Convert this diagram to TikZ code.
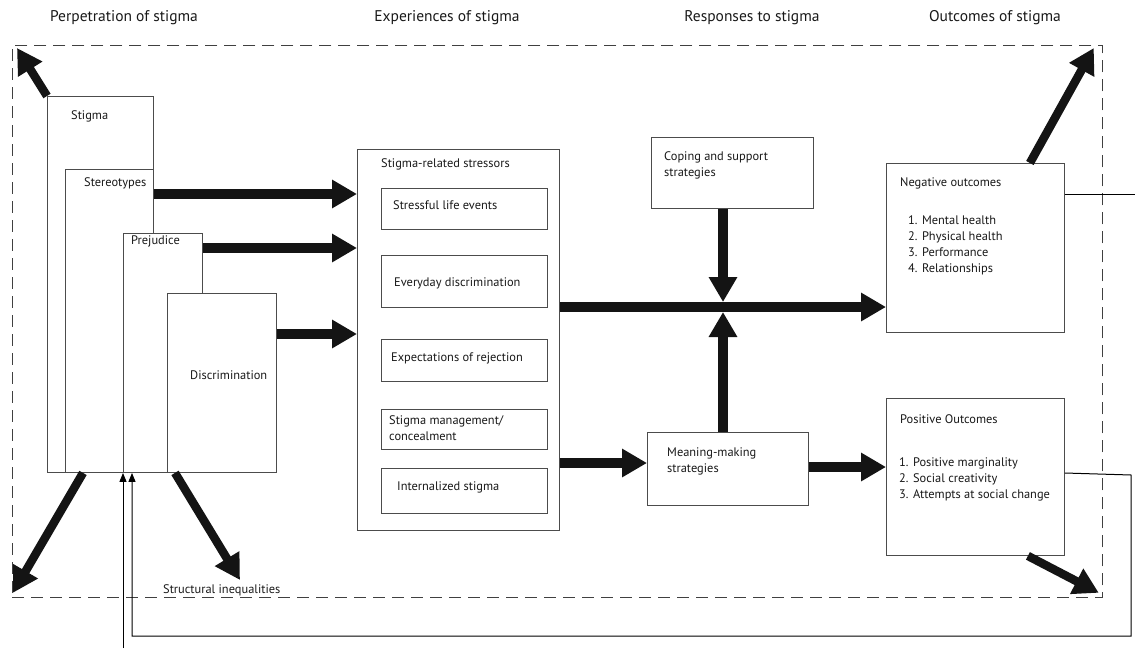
\documentclass[tikz,border=0pt]{standalone}
\usepackage{fontspec}
\setmainfont{PT Sans}
\usetikzlibrary{arrows.meta}
\begin{document}
\begin{tikzpicture}[x=1pt,y=-1pt,
  box/.style={draw=black!70, line width=0.9pt, fill=white, inner sep=0pt, anchor=north west},
  txt/.style={anchor=west, inner sep=0pt, font=\fontsize{12.4}{16}\selectfont, align=left, text=black!90},
  head/.style={font=\fontsize{15.5}{18}\selectfont, inner sep=0pt, text=black!90},
  big/.style={line width=9.5pt, draw=black!92, -{Triangle[length=25pt,width=27pt]}},
  thinarrow/.style={line width=1pt, draw=black, -{Triangle[length=9pt,width=7pt]}},
  thinline/.style={line width=1pt, draw=black}]
\useasboundingbox (0,0) rectangle (1135,648);

% headers
\node[head] (h1) at (124,18) {Perpetration of stigma};
\node[head] (h2) at (447,18) {Experiences of stigma};
\node[head] (h3) at (752,18) {Responses to stigma};
\node[head] (h4) at (995,18) {Outcomes of stigma};

% dashed frame
\node[draw=black!75, dash pattern=on 12pt off 7pt, line width=0.8pt, inner sep=0pt,
      minimum width=1090pt, minimum height=552pt, anchor=north west] (frame) at (12,45) {};

% perpetration boxes
\node[box, minimum width=106pt, minimum height=376pt] (stigma) at (47,96) {};
\node[box, minimum width=88pt, minimum height=303pt] (stereo) at (65,169) {};
\node[box, minimum width=79pt, minimum height=239pt] (prej) at (123,233) {};
\node[box, minimum width=109pt, minimum height=179pt] (disc) at (167,293) {};
\node[txt] (tstigma) at (71,116) {Stigma};
\node[txt] (tstereo) at (84,183) {Stereotypes};
\node[txt] (tprej) at (131,241) {Prejudice};
\node[txt] (tdisc) at (190,375) {Discrimination};

% stressors
\node[box, minimum width=202pt, minimum height=381pt] (stress) at (357,149) {};
\node[txt] (tstress) at (381,164) {Stigma-related stressors};
\node[box, minimum width=166pt, minimum height=41pt] (s1) at (381,188) {};
\node[box, minimum width=166pt, minimum height=52pt] (s2) at (381,255) {};
\node[box, minimum width=166pt, minimum height=42pt] (s3) at (381,339) {};
\node[box, minimum width=166pt, minimum height=40pt] (s4) at (381,409) {};
\node[box, minimum width=166pt, minimum height=45pt] (s5) at (381,468) {};
\node[txt] (ts1) at (393,205) {Stressful life events};
\node[txt] (ts2) at (394,283) {Everyday discrimination};
\node[txt] (ts3) at (391,358) {Expectations of rejection};
\node[txt] (ts4) at (389,428.5) {Stigma management/\\concealment};
\node[txt] (ts5) at (397,487) {Internalized stigma};

% responses
\node[box, minimum width=162pt, minimum height=71pt] (coping) at (651,137) {};
\node[txt] (tcoping) at (664,165) {Coping and support\\strategies};
\node[box, minimum width=161pt, minimum height=73pt] (meaning) at (647,432) {};
\node[txt] (tmeaning) at (667,461) {Meaning-making\\strategies};

% outcomes
\node[box, minimum width=178pt, minimum height=169pt] (neg) at (886,163) {};
\node[txt] (tneg) at (900,183) {Negative outcomes};
\node[txt] (tnegl) at (908,245) {1. Mental health\\2. Physical health\\3. Performance\\4. Relationships};
\node[box, minimum width=178pt, minimum height=157pt] (pos) at (886,398) {};
\node[txt] (tpos) at (900,419) {Positive Outcomes};
\node[txt] (tposl) at (899,479) {1. Positive marginality\\2. Social creativity\\3. Attempts at social change};

\node[txt] (tstruct) at (163,590) {Structural inequalities};

% thick arrows
\draw[big] (stereo.east |- 0,194) -- (stress.west |- 0,194);
\draw[big] (prej.east |- 0,248) -- (stress.west |- 0,248);
\draw[big] (disc.east |- 0,334) -- (stress.west |- 0,334);
\draw[big] (stress.east |- 0,307) -- (neg.west |- 0,307);
\coordinate (j) at (723,307);
\draw[big] (j |- coping.south) -- ([yshift=5pt]j);
\draw[big] (j |- meaning.north) -- ([yshift=-5pt]j);
\draw[big] (stress.east |- 0,463) -- (meaning.west |- 0,463);
\draw[big] (meaning.east |- 0,467) -- (pos.west |- 0,467);

% diagonal arrows to frame corners
\draw[big, line width=8.5pt] (stigma.north west) -- ([shift={(5pt,-3pt)}]frame.north west);
\draw[big, line width=8.5pt] ([xshift=36pt]stigma.south west) -- ([shift={(1pt,5pt)}]frame.south west);
\draw[big, line width=8.5pt] ([xshift=8pt]disc.south west) -- (240,580);
\draw[big, line width=8.5pt] ([xshift=-35pt]neg.north east) -- ([shift={(-9pt,-3pt)}]frame.north east);
\draw[big, line width=8.5pt] ([xshift=-37pt]pos.south east) -- ([shift={(-4pt,5pt)}]frame.south east);

% thin connectors
\coordinate (negout) at (1135,194);
\draw[thinline] (neg.east |- negout) -- (negout);
\draw[thinarrow] (pos.east |- 0,473) -- (1131,475) -- (1131,636) -- (132,636) -- (132,0 |- stigma.south);
\coordinate (inb) at (123,648);
\draw[thinarrow] (inb) -- (prej.south west);
\end{tikzpicture}
\end{document}
